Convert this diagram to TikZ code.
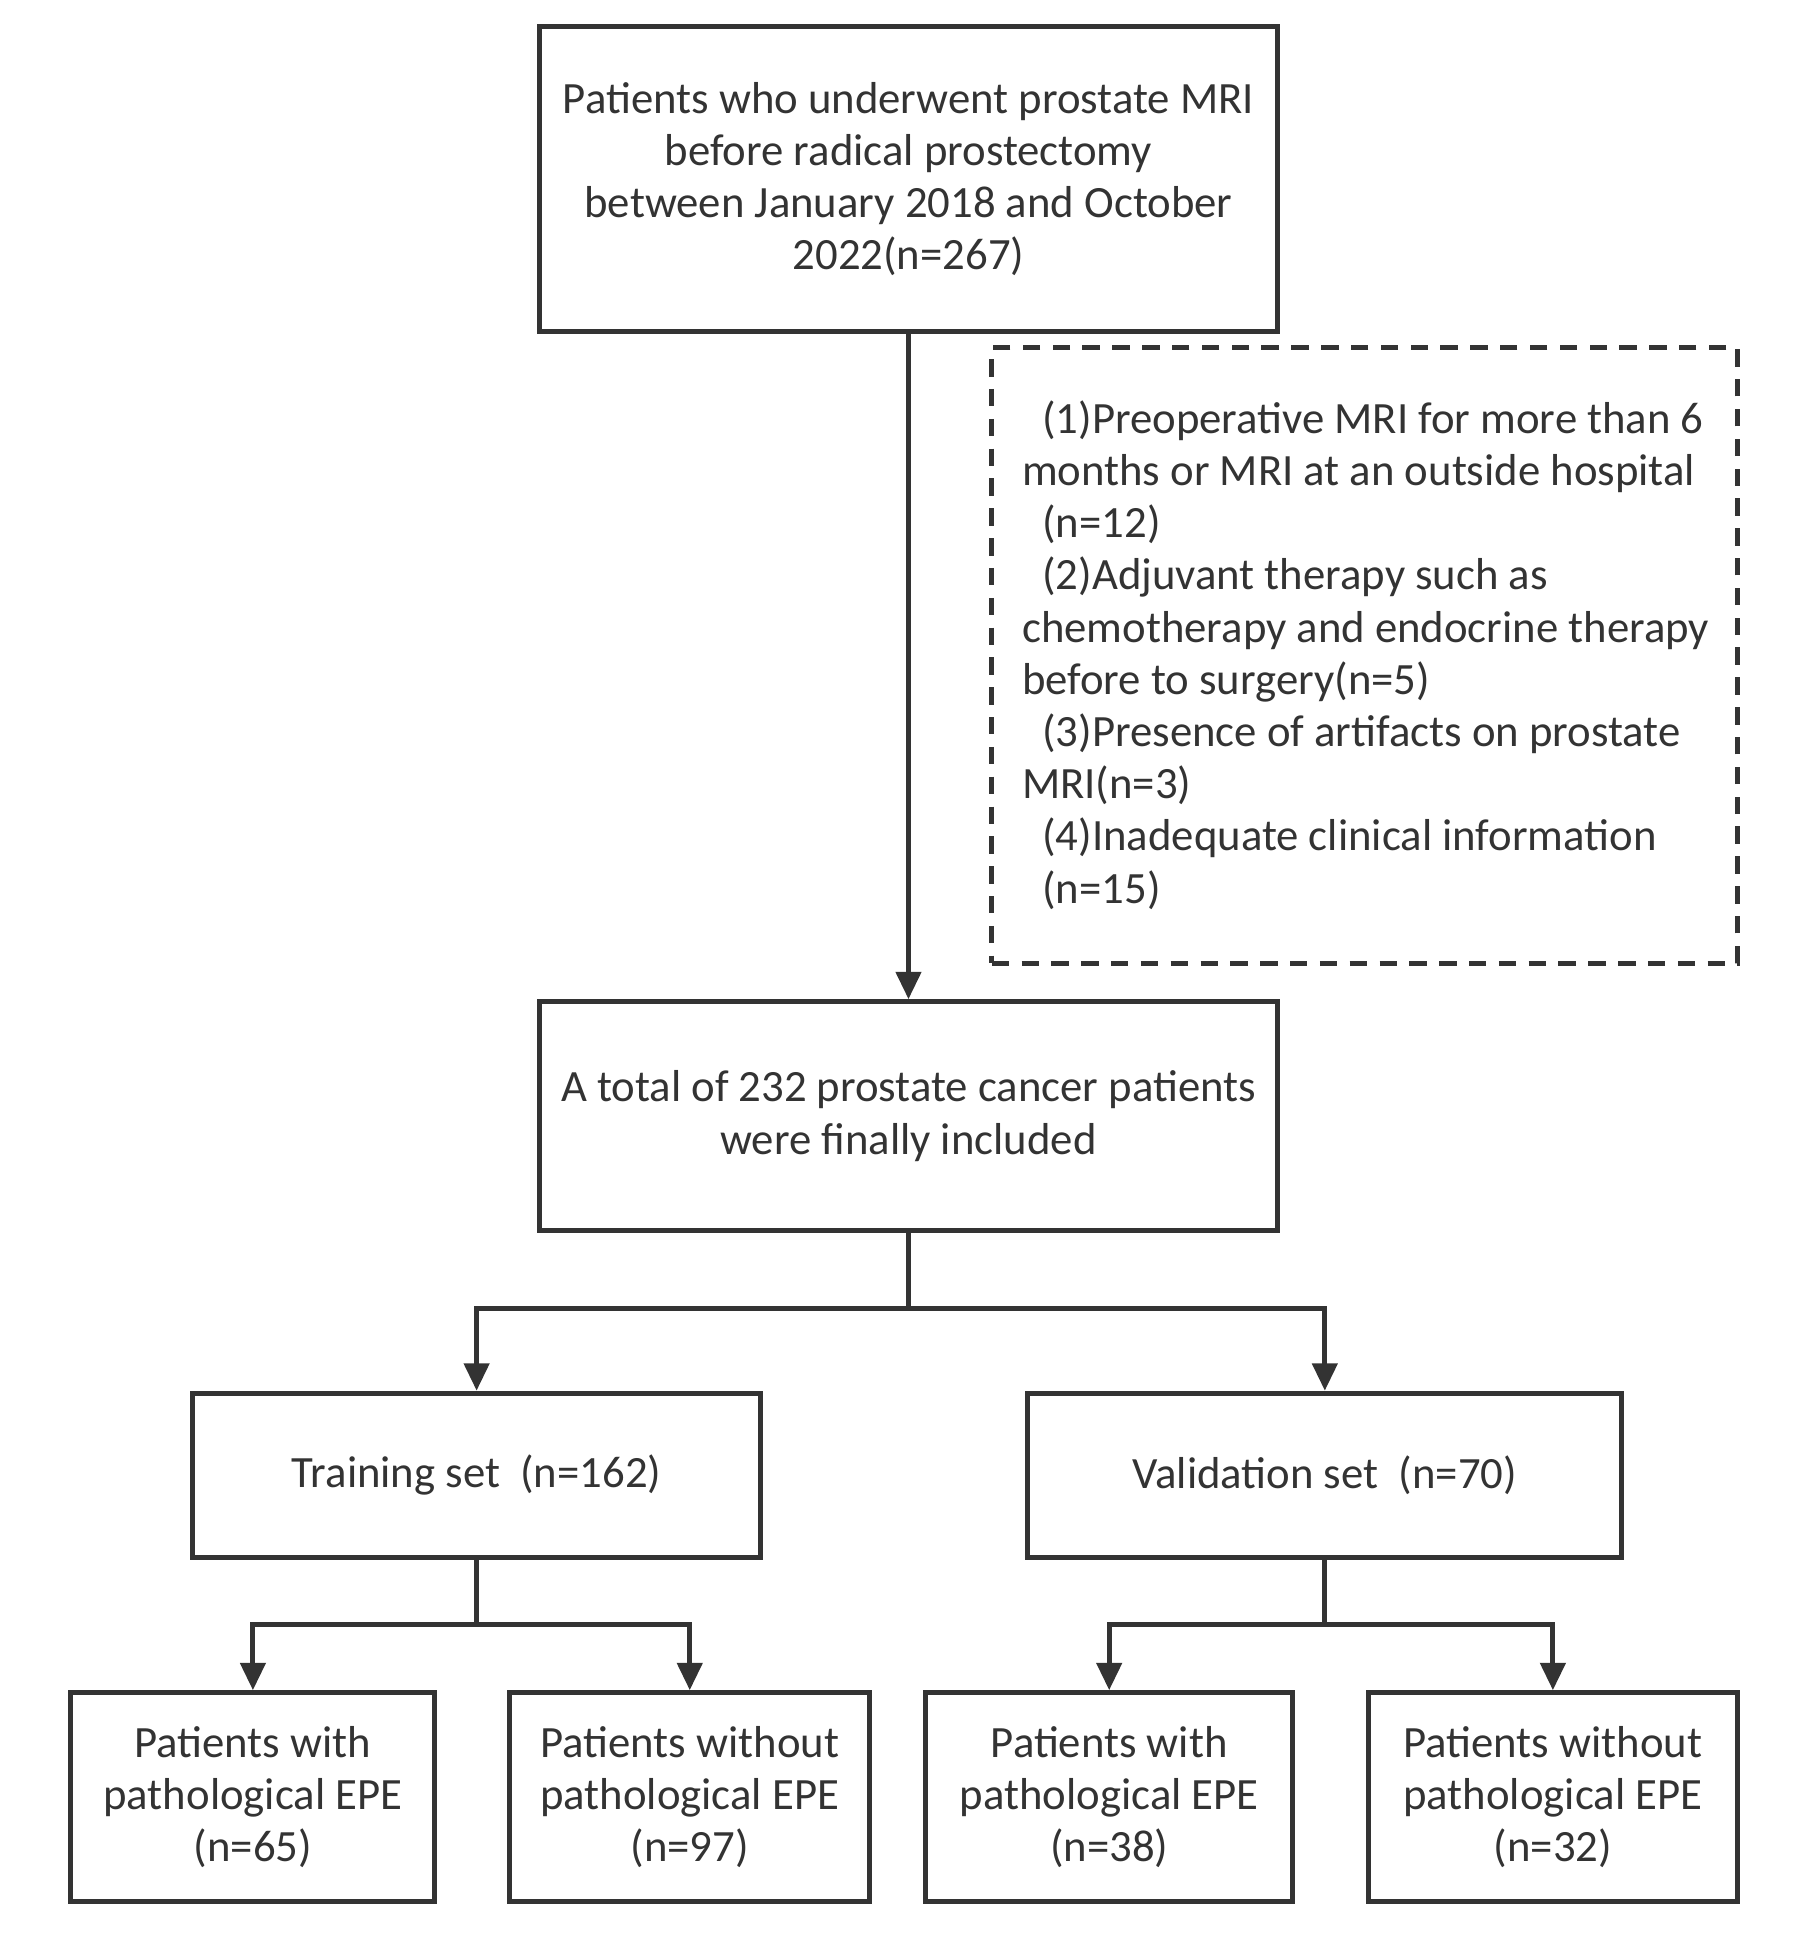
\documentclass[tikz,border=0pt]{standalone}
\usepackage{fontspec}
\setmainfont{Carlito}
\usetikzlibrary{arrows.meta}
\definecolor{ln}{HTML}{333333}
\begin{document}
\begin{tikzpicture}[x=0.5pt,y=-0.5pt,
  box/.style={draw=ln,line width=2pt,align=center,inner sep=0pt,font=\fontsize{18}{21}\selectfont,text=ln},
  conn/.style={draw=ln,line width=2pt,-{Triangle[width=10pt,length=11pt]}},
  plain/.style={draw=ln,line width=2pt}]
\useasboundingbox (0,0) rectangle (1450,1561);
\node[box,minimum width=297pt,minimum height=123pt] (top) at (731,144) {Patients who underwent prostate MRI\\before radical prostectomy\\between January 2018 and October\\2022(n=267)};
\node[box,dashed,dash pattern=on 7pt off 5pt,minimum width=300pt,minimum height=247.5pt,align=left] (excl) at (1098,527.5) {};
\node[font=\fontsize{18}{21}\selectfont,text=ln,align=left,inner sep=0pt,anchor=north west] (excltext) at (822,322) {\ \ (1)Preoperative MRI for more than 6\\months or MRI at an outside hospital\\\ \ (n=12)\\\ \ (2)Adjuvant therapy such as\\chemotherapy and endocrine therapy\\before to surgery(n=5)\\\ \ (3)Presence of artifacts on prostate\\MRI(n=3)\\\ \ (4)Inadequate clinical information\\\ \ (n=15)};
\node[box,minimum width=297pt,minimum height=92pt] (mid) at (731,898) {A total of 232 prostate cancer patients\\were finally included};
\node[box,minimum width=228.5pt,minimum height=66pt] (train) at (383.5,1187) {Training set\ \ (n=162)};
\node[box,minimum width=239pt,minimum height=66pt] (val) at (1066,1187) {Validation set\ \ (n=70)};
\node[box,minimum width=146.5pt,minimum height=84pt] (b1) at (203.5,1446) {Patients with\\pathological EPE\\(n=65)};
\node[box,minimum width=145pt,minimum height=84pt] (b2) at (555,1446) {Patients without\\pathological EPE\\(n=97)};
\node[box,minimum width=147.5pt,minimum height=84pt] (b3) at (892.5,1446) {Patients with\\pathological EPE\\(n=38)};
\node[box,minimum width=148.5pt,minimum height=84pt] (b4) at (1249.5,1446) {Patients without\\pathological EPE\\(n=32)};
\draw[conn] (top.south) -- (mid.north);
\coordinate (s1) at (731,1053);
\coordinate (s2) at (383.5,1307);
\coordinate (s3) at (1066,1307);
\draw[plain] (mid.south) -- (s1);
\draw[conn] (s1) -| (train.north);
\draw[conn] (s1) -| (val.north);
\draw[plain] (train.south) -- (s2);
\draw[conn] (s2) -| (b1.north);
\draw[conn] (s2) -| (b2.north);
\draw[plain] (val.south) -- (s3);
\draw[conn] (s3) -| (b3.north);
\draw[conn] (s3) -| (b4.north);
\end{tikzpicture}
\end{document}
